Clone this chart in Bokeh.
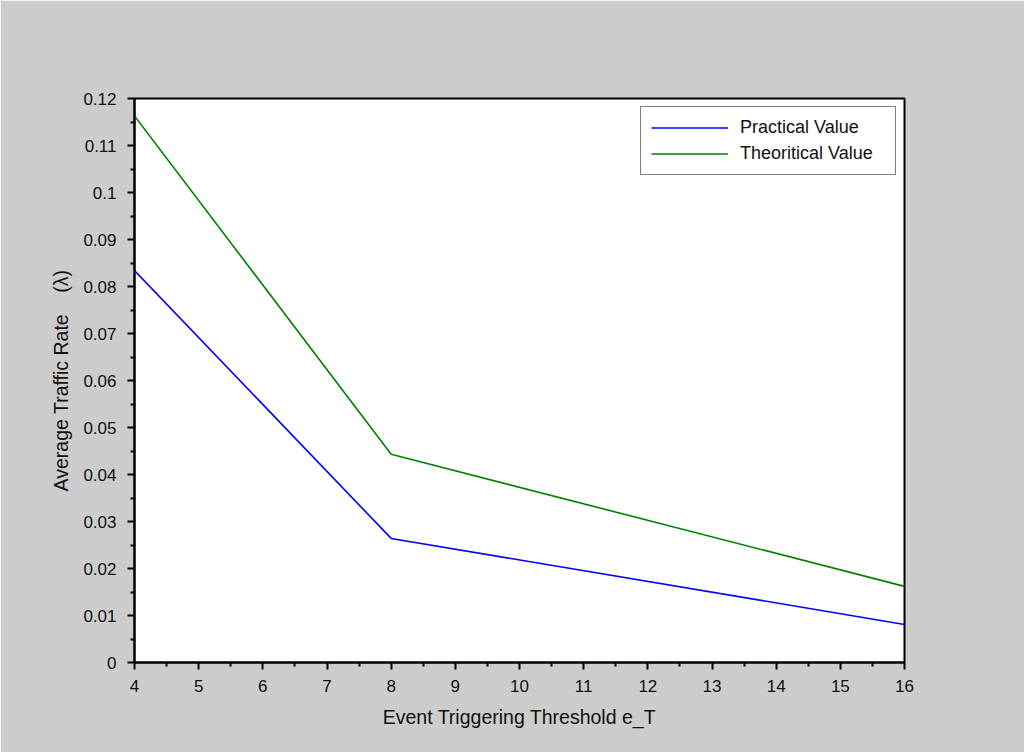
from bokeh.plotting import figure
from bokeh.models import Range1d, FixedTicker, Legend, LegendItem
from bokeh.embed import file_html
from bokeh.resources import INLINE

thresholds = [4, 8, 16]
practical = [0.0834, 0.0264, 0.0081]
theoretical = [0.1163, 0.0443, 0.0162]
x_ticks = list(range(4, 17))
x_minor = [4.5 + i for i in range(12)]
y_ticks = [i / 100 for i in range(13)]
y_tick_labels = ["0", "0.01", "0.02", "0.03", "0.04", "0.05", "0.06", "0.07",
                 "0.08", "0.09", "0.1", "0.11", "0.12"]
y_minor = [0.005 + i / 100 for i in range(12)]

FONT = "Liberation Sans"
BG = "#cccccc"
NB = "\u00a0"

p = figure(width=1024, height=752, output_backend="svg", toolbar_location=None,
           x_range=Range1d(4, 16), y_range=Range1d(0, 0.12),
           min_border_left=134, min_border_right=120, min_border_top=98,
           min_border_bottom=90)
p.border_fill_color = BG
p.background_fill_color = "white"
p.outline_line_color = "black"
p.outline_line_width = 2
p.xgrid.visible = False
p.ygrid.visible = False

r1 = p.line(thresholds, practical, line_color="#0000ff", line_width=1.6)
r2 = p.line(thresholds, theoretical, line_color="#008000", line_width=1.6)

p.xaxis.ticker = FixedTicker(ticks=x_ticks, minor_ticks=x_minor)
p.yaxis.ticker = FixedTicker(ticks=y_ticks, minor_ticks=y_minor)
p.yaxis.major_label_overrides = {t: l for t, l in zip(y_ticks, y_tick_labels)}
p.xaxis.major_label_overrides = {t: str(t) for t in x_ticks}

for ax in (p.xaxis, p.yaxis):
    ax.axis_line_color = "black"
    ax.axis_line_width = 2
    ax.major_tick_line_color = "black"
    ax.major_tick_line_width = 2
    ax.minor_tick_line_color = "black"
    ax.minor_tick_line_width = 2
    ax.major_tick_in = 0
    ax.major_tick_out = 7
    ax.minor_tick_in = 0
    ax.minor_tick_out = 4
    ax.major_label_text_font = FONT
    ax.major_label_text_font_size = "17px"
    ax.major_label_text_color = "#111111"
    ax.axis_label_text_font = FONT
    ax.axis_label_text_font_size = "19.5px"
    ax.axis_label_text_font_style = "normal"
    ax.axis_label_text_color = "#111111"

p.xaxis.axis_label = "Event Triggering Threshold e_T"
p.yaxis.axis_label = "Average Traffic Rate" + NB * 4 + "(λ)"
p.xaxis.major_label_standoff = 10
p.yaxis.major_label_standoff = 11
p.xaxis.axis_label_standoff = 11
p.yaxis.axis_label_standoff = 8

legend = Legend(items=[LegendItem(label="Practical Value", renderers=[r1]),
                       LegendItem(label="Theoritical Value", renderers=[r2])],
                location="top_right")
legend.margin = 8
legend.padding = 10
legend.spacing = 5
legend.glyph_width = 77
legend.glyph_height = 21
legend.label_height = 21
legend.label_width = 145
legend.label_standoff = 12
legend.label_text_font = FONT
legend.label_text_font_size = "18px"
legend.label_text_color = "#111111"
legend.border_line_color = "black"
legend.border_line_width = 1.5
legend.background_fill_color = "white"
legend.background_fill_alpha = 1
p.add_layout(legend)

open("out.html", "w").write(file_html(p, INLINE))
